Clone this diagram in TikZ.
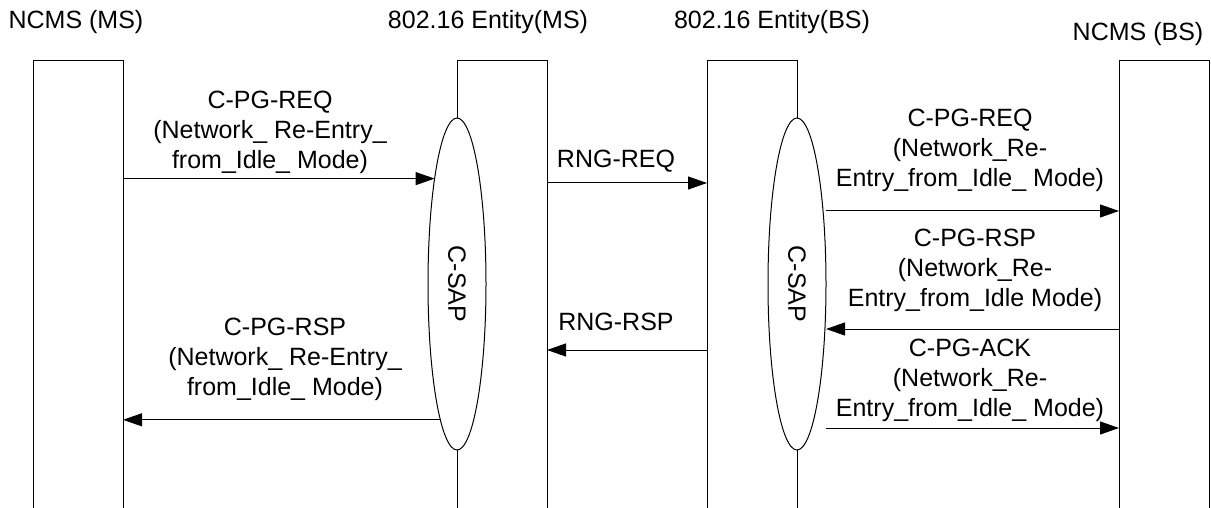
\documentclass[tikz,border=0pt]{standalone}
\usepackage{fontspec}
\setmainfont{Liberation Sans}
\usetikzlibrary{arrows.meta,shapes.geometric}

\begin{document}
\begin{tikzpicture}[x=0.5pt, y=-0.5pt, line width=0.5pt,
    font=\fontsize{12.5}{15}\selectfont,
    entity/.style={rectangle, anchor=north west, inner sep=0, outer sep=0, minimum width=45pt, minimum height=223.5pt},
    sap/.style={ellipse, draw, fill=white, inner sep=0, outer sep=0, minimum width=29pt, minimum height=166pt},
    msg/.style={-{Triangle[length=9.5pt, width=6.5pt]}},
    lbl/.style={align=center, inner sep=0}]
    \useasboundingbox (0,0) rectangle (1211,508);

    % titles
    \node(t1) at (76,22) [lbl] {NCMS (MS)};
    \node(t2) at (488,22) [lbl] {802.16 Entity(MS)};
    \node(t3) at (772,22) [lbl] {802.16 Entity(BS)};
    \node(t4) at (1138,34) [lbl] {NCMS (BS)};

    % entities, open at the bottom
    \node(b1) at (33,61) [entity] {};
    \node(b2) at (457,61) [entity] {};
    \node(b3) at (707,61) [entity] {};
    \node(b4) at (1119,61) [entity] {};
    \draw (b1.south west) |- (b1.north east) -- (b1.south east);
    \draw (b2.south west) |- (b2.north east) -- (b2.south east);
    \draw (b3.south west) |- (b3.north east) -- (b3.south east);
    \draw (b4.south west) |- (b4.north east) -- (b4.south east);

    % service access points
    \node(sap1) at (457,284) [sap] {};
    \node(sap2) at (797,284) [sap] {};
    \node at (sap1) [rotate=-90] {C-SAP};
    \node at (sap2) [rotate=-90] {C-SAP};

    % MS side
    \node(m1) at (270,132) [lbl] {C-PG-REQ\\(Network\_ Re-Entry\_\\from\_Idle\_ Mode)};
    \draw [msg] (b1.east |- sap1.102) -- (sap1.102);
    \node(m2) at (285,359) [lbl] {C-PG-RSP\\(Network\_ Re-Entry\_\\from\_Idle\_ Mode)};
    \draw [msg] (sap1.263) -- (b1.east |- sap1.263);

    % air interface
    \node(m3) at (616,161) [lbl] {RNG-REQ};
    \coordinate (y3) at (0,183);
    \draw [msg] (b2.east |- y3) -- (b3.west |- y3);
    \node(m4) at (616,322) [lbl] {RNG-RSP};
    \coordinate (y4) at (0,350);
    \draw [msg] (b3.west |- y4) -- (b2.east |- y4);

    % BS side
    \node(m5) at (970,150) [lbl] {C-PG-REQ\\(Network\_Re-\\Entry\_from\_Idle\_ Mode)};
    \coordinate (y5) at (0,211);
    \draw [msg] (sap2.east |- y5) -- (b4.west |- y5);
    \node(m6) at (975,270) [lbl] {C-PG-RSP\\(Network\_Re-\\Entry\_from\_Idle Mode)};
    \coordinate (y6) at (0,329);
    \draw [msg] (b4.west |- y6) -- (sap2.east |- y6);
    \node(m7) at (970,380) [lbl] {C-PG-ACK\\(Network\_Re-\\Entry\_from\_Idle\_ Mode)};
    \coordinate (y7) at (0,428);
    \draw [msg] (sap2.east |- y7) -- (b4.west |- y7);
\end{tikzpicture}
\end{document}
